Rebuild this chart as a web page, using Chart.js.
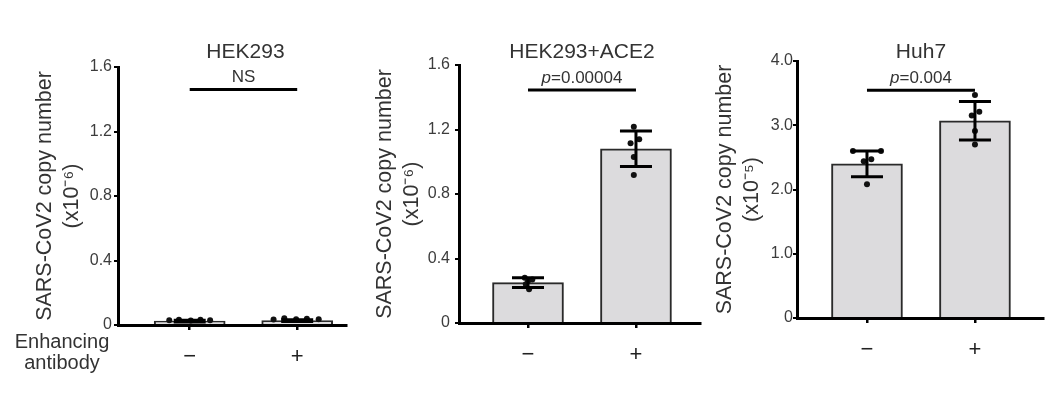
<!DOCTYPE html>
<html lang="en">
<head>
<meta charset="UTF-8">
<title>SARS-CoV2 copy number</title>
<script src="https://cdn.jsdelivr.net/npm/chart.js"></script>
<style>
  body { margin: 0; background: #fff; width: 1060px; height: 394px; position: relative; overflow: hidden;
         font-family: 'Liberation Sans', Arial, sans-serif; }
  canvas { position: absolute; top: 0; }
  #side { position: absolute; left: 2px; top: 331px; width: 120px; text-align: center;
          font-size: 20px; line-height: 21px; color: #333; }
</style>
</head>
<body>
<canvas id="c1" width="350" height="394" style="left:0"></canvas>
<canvas id="c2" width="355" height="394" style="left:350px"></canvas>
<canvas id="c3" width="355" height="394" style="left:705px"></canvas>
<div id="side">Enhancing<br>antibody</div>

<script>
// categories (x) and panel texts
var categories = ['\u2212', '+'];
var titles = ['HEK293', 'HEK293+ACE2', 'Huh7'];
var pLabels = ['NS', '0.00004', '0.004'];
var yUnits = ['(x10\u207B\u2076)', '(x10\u207B\u2076)', '(x10\u207B\u2075)'];
var bracketLevel = [1.46, 1.445, 3.545];

// tick labels
var yTicks16 = [0, 0.4, 0.8, 1.2, 1.6];
var yTicks4 = [0, 1, 2, 3, 4];

// HEK293
var hekMean = [0.024, 0.027];
var hekSd = [0.005, 0.006];
var hekDots = [[0.03, 0.032, 0.028, 0.033, 0.03], [0.034, 0.042, 0.036, 0.038, 0.035]];
var hekJitter = [[-0.19, -0.1, 0.01, 0.1, 0.19], [-0.22, -0.12, -0.01, 0.09, 0.2]];

// HEK293+ACE2
var aceMean = [0.25, 1.08];
var aceSd = [0.03, 0.11];
var aceDots = [[0.28, 0.27, 0.26, 0.24, 0.21], [1.217, 1.139, 1.114, 1.03, 0.918]];
var aceJitter = [[-0.03, 0.04, 0, -0.02, 0.01], [-0.02, 0.03, -0.05, -0.02, -0.02]];

// Huh7
var huhMean = [2.40, 3.07];
var huhSd = [0.2, 0.3];
var huhDots = [[2.6, 2.6, 2.47, 2.44, 2.08], [3.47, 3.21, 3.15, 2.91, 2.70]];
var huhJitter = [[-0.13, 0.13, 0.04, -0.03, 0], [0, 0.04, -0.03, 0, 0]];

var FONT = "'Liberation Sans', Arial, sans-serif";

// error bars, bracket, p value and panel title
var extras = {
  id: 'extras',
  afterDatasetsDraw: function (chart, args, o) {
    var ctx = chart.ctx, xs = chart.scales.x, ys = chart.scales.y;
    ctx.save();
    ctx.strokeStyle = '#000';
    ctx.lineWidth = 3;
    o.mean.forEach(function (m, i) {
      var x = xs.getPixelForValue(i);
      var t = ys.getPixelForValue(m + o.sd[i]);
      var b = ys.getPixelForValue(m - o.sd[i]);
      ctx.beginPath();
      ctx.moveTo(x, t); ctx.lineTo(x, b);
      ctx.moveTo(x - 16, t); ctx.lineTo(x + 16, t);
      ctx.moveTo(x - 16, b); ctx.lineTo(x + 16, b);
      ctx.stroke();
    });

    var x0 = xs.getPixelForValue(0), x1 = xs.getPixelForValue(1);
    var yb = ys.getPixelForValue(o.bracket);
    ctx.beginPath();
    ctx.moveTo(x0, yb); ctx.lineTo(x1, yb);
    ctx.stroke();

    var cx = (x0 + x1) / 2;
    ctx.fillStyle = '#333';
    ctx.textBaseline = 'middle';
    if (o.p === 'NS') {
      ctx.font = '17px ' + FONT;
      ctx.textAlign = 'center';
      ctx.fillText('NS', cx, yb - 12);
    } else {
      ctx.font = 'italic 17px ' + FONT;
      var w1 = ctx.measureText('p').width;
      ctx.font = '17px ' + FONT;
      var rest = '=' + o.p;
      var w2 = ctx.measureText(rest).width;
      var sx = cx - (w1 + w2) / 2;
      ctx.textAlign = 'left';
      ctx.font = 'italic 17px ' + FONT;
      ctx.fillText('p', sx, yb - 12);
      ctx.font = '17px ' + FONT;
      ctx.fillText(rest, sx + w1, yb - 12);
    }

    ctx.font = '21px ' + FONT;
    ctx.textAlign = 'center';
    ctx.fillText(o.title, cx + o.titleShift, 52);
    ctx.restore();
  }
};

function makePanel(id, k, mean, sd, dots, jitter, yTicks, box) {
  var dotData = [];
  dots.forEach(function (arr, i) {
    arr.forEach(function (v, j) { dotData.push({ x: i + jitter[i][j], y: v }); });
  });
  var ymax = yTicks[yTicks.length - 1];
  return new Chart(document.getElementById(id), {
    type: 'bar',
    data: {
      datasets: [{
        type: 'bar',
        data: mean.map(function (v, i) { return { x: i, y: v }; }),
        backgroundColor: '#dcdbdd',
        borderColor: '#2a2a2a',
        borderWidth: 2,
        barThickness: 71,
        order: 2
      }, {
        type: 'scatter',
        data: dotData,
        pointRadius: 3,
        pointBackgroundColor: '#111',
        pointBorderWidth: 0,
        order: 1
      }]
    },
    options: {
      responsive: false,
      animation: false,
      layout: { padding: { top: box.top, right: box.right, left: 0, bottom: 0 } },
      plugins: {
        legend: { display: false },
        tooltip: { enabled: false },
        extras: { mean: mean, sd: sd, bracket: bracketLevel[k], p: pLabels[k], title: titles[k], titleShift: box.shift }
      },
      scales: {
        x: {
          type: 'linear',
          offset: false,
          min: box.xmin, max: box.xmax,
          afterBuildTicks: function (s) { s.ticks = categories.map(function (c, i) { return { value: i }; }); },
          afterFit: function (s) { s.height = box.xh; },
          ticks: {
            color: '#222', padding: 14, maxRotation: 0,
            font: { family: FONT, size: 22 },
            callback: function (v) { return categories[v]; }
          },
          grid: { offset: false, drawOnChartArea: false, drawTicks: true, tickLength: 5, color: '#000', lineWidth: 2.5 },
          border: { color: '#000', width: 3 }
        },
        y: {
          min: 0, max: ymax,
          afterBuildTicks: function (s) { s.ticks = yTicks.map(function (v) { return { value: v }; }); },
          afterFit: function (s) { s.width = box.yw; },
          ticks: {
            color: '#3c3c3c', padding: box.tp,
            font: { family: FONT, size: 16 },
            callback: function (v) { return v === 0 ? '0' : v.toFixed(1); }
          },
          grid: { drawOnChartArea: false, drawTicks: true, tickLength: 4, color: '#000', lineWidth: 2 },
          border: { color: '#000', width: 3 },
          title: {
            display: true,
            text: ['SARS-CoV2 copy number', yUnits[k]],
            color: '#333',
            padding: { top: box.tt, bottom: 0 },
            font: { family: FONT, size: 21.5, lineHeight: 1.28 }
          }
        }
      }
    },
    plugins: [extras]
  });
}

makePanel('c1', 0, hekMean, hekSd, hekDots, hekJitter, yTicks16,
  { top: 67, right: 3, xh: 69, yw: 118, tp: 2, tt: 31, xmin: -0.667, xmax: 1.454, shift: 2 });
makePanel('c2', 1, aceMean, aceSd, aceDots, aceJitter, yTicks16,
  { top: 65, right: 5, xh: 71, yw: 109, tp: 5, tt: 21, xmin: -0.639, xmax: 1.593, shift: 0 });
makePanel('c3', 2, huhMean, huhSd, huhDots, huhJitter, yTicks4,
  { top: 61, right: 17, xh: 76, yw: 92, tp: 0, tt: 6, xmin: -0.648, xmax: 1.63, shift: 0 });
</script>
</body>
</html>
